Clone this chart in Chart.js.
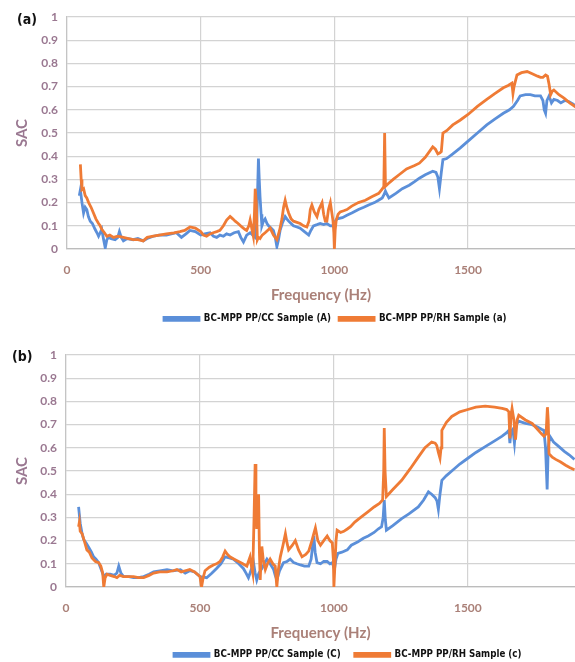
<!DOCTYPE html>
<html>
<head>
<meta charset="utf-8">
<title>SAC vs Frequency</title>
<script src="https://cdn.jsdelivr.net/npm/chart.js@4.4.0/dist/chart.umd.min.js"></script>
<style>
  html, body { margin: 0; padding: 0; background: #fff; }
  body { width: 575px; height: 662px; position: relative; overflow: hidden; }
  canvas { position: absolute; left: 0; }
  .tag { position: absolute; font: bold 14px "DejaVu Sans Condensed", "Liberation Sans", sans-serif; color: #111; }
</style>
</head>
<body>
<canvas id="chartA" width="575" height="330" style="top:0"></canvas>
<canvas id="chartB" width="575" height="332" style="top:330px"></canvas>
<div class="tag" style="left:17px;top:11px">(a)</div>
<div class="tag" style="left:12px;top:348px">(b)</div>
<script>
// frequency axis ticks (Hz)
const xTicks = [0, 500, 1000, 1500];

const namesA = ['BC-MPP PP/CC Sample (A)', 'BC-MPP PP/RH Sample (a)'];
const namesB = ['BC-MPP PP/CC Sample (C)', 'BC-MPP PP/RH Sample (c)'];

// [frequency Hz, SAC]
const ccA = [
  [46,0.23],[50,0.255],[56,0.2],[62,0.155],[68,0.18],[74,0.17],[80,0.14],[87,0.12],[95,0.11],[105,0.085],
  [112,0.07],[118,0.055],[124,0.07],[130,0.085],[137,0.04],[143,0.005],[149,0.04],[155,0.05],[165,0.045],[180,0.04],
  [190,0.05],[196,0.075],[203,0.05],[211,0.035],[225,0.045],[248,0.04],[265,0.045],[285,0.035],[300,0.045],[323,0.055],
  [345,0.06],[372,0.06],[390,0.065],[409,0.07],[428,0.05],[445,0.065],[460,0.08],[480,0.075],[500,0.06],[515,0.065],
  [535,0.07],[548,0.055],[560,0.05],[572,0.06],[585,0.055],[597,0.065],[610,0.06],[625,0.07],[641,0.075],[650,0.05],
  [660,0.03],[672,0.06],[685,0.07],[695,0.06],[704,0.05],[710,0.12],[716,0.39],[719,0.3],[722,0.225],[726,0.15],
  [729,0.1],[735,0.12],[741,0.13],[748,0.11],[754,0.1],[763,0.09],[772,0.08],[779,0.05],[785,0.01],[791,0.04],
  [797,0.08],[805,0.11],[816,0.14],[822,0.13],[829,0.12],[838,0.11],[847,0.1],[860,0.095],[872,0.09],[888,0.075],
  [904,0.06],[912,0.08],[922,0.1],[935,0.105],[947,0.11],[960,0.105],[972,0.11],[985,0.1],[991,0.1],[997,0.105],
  [1003,0.12],[1010,0.13],[1030,0.135],[1047,0.145],[1065,0.155],[1090,0.17],[1110,0.18],[1128,0.19],[1150,0.2],[1165,0.21],
  [1179,0.22],[1186,0.235],[1191,0.25],[1197,0.235],[1204,0.22],[1230,0.24],[1254,0.26],[1280,0.275],[1300,0.29],[1318,0.305],
  [1340,0.32],[1368,0.335],[1380,0.33],[1387,0.31],[1393,0.26],[1400,0.33],[1406,0.385],[1420,0.39],[1443,0.41],[1470,0.435],
  [1500,0.465],[1535,0.5],[1570,0.535],[1600,0.56],[1632,0.585],[1655,0.6],[1670,0.615],[1685,0.64],[1695,0.66],[1715,0.665],
  [1733,0.665],[1750,0.66],[1771,0.66],[1780,0.64],[1785,0.6],[1790,0.585],[1795,0.64],[1803,0.66],[1812,0.63],[1821,0.645],
  [1835,0.64],[1847,0.63],[1862,0.64],[1878,0.635],[1892,0.625],[1905,0.615]
];

const rhA = [
  [50,0.365],[53,0.3],[56,0.255],[62,0.26],[68,0.23],[74,0.22],[81,0.2],[90,0.18],[99,0.155],[108,0.13],
  [118,0.11],[124,0.1],[130,0.085],[140,0.07],[149,0.055],[160,0.06],[174,0.05],[190,0.055],[211,0.05],[230,0.045],
  [248,0.04],[265,0.04],[285,0.035],[300,0.05],[323,0.055],[345,0.06],[372,0.065],[400,0.07],[422,0.075],[440,0.08],
  [460,0.095],[480,0.09],[500,0.075],[510,0.06],[522,0.055],[535,0.065],[547,0.07],[560,0.075],[572,0.08],[585,0.1],
  [597,0.125],[610,0.14],[620,0.13],[629,0.12],[640,0.11],[654,0.095],[665,0.085],[672,0.08],[680,0.1],[685,0.125],
  [691,0.09],[697,0.055],[701,0.15],[704,0.26],[708,0.2],[712,0.04],[716,0.05],[722,0.045],[730,0.06],[741,0.07],
  [750,0.08],[760,0.09],[772,0.06],[785,0.04],[795,0.08],[804,0.13],[810,0.18],[816,0.21],[822,0.18],[829,0.155],
  [838,0.13],[847,0.12],[860,0.115],[872,0.11],[885,0.1],[897,0.095],[905,0.12],[910,0.17],[916,0.19],[925,0.16],
  [935,0.14],[942,0.17],[954,0.2],[960,0.15],[966,0.12],[972,0.12],[978,0.17],[985,0.2],[990,0.16],[995,0.12],
  [998,0.07],[1000,0],[1003,0.08],[1007,0.125],[1014,0.15],[1022,0.16],[1035,0.165],[1047,0.17],[1065,0.185],[1090,0.2],
  [1116,0.21],[1140,0.225],[1166,0.24],[1180,0.26],[1185,0.27],[1188,0.5],[1191,0.27],[1200,0.28],[1220,0.3],[1242,0.32],
  [1270,0.345],[1300,0.36],[1318,0.37],[1340,0.395],[1368,0.44],[1378,0.43],[1387,0.41],[1395,0.415],[1400,0.42],[1406,0.5],
  [1420,0.51],[1443,0.535],[1470,0.555],[1500,0.58],[1535,0.615],[1570,0.645],[1600,0.67],[1632,0.695],[1650,0.705],[1664,0.715],
  [1668,0.67],[1672,0.7],[1683,0.75],[1700,0.76],[1721,0.765],[1740,0.755],[1760,0.745],[1771,0.74],[1780,0.74],[1790,0.75],
  [1797,0.745],[1803,0.71],[1809,0.665],[1815,0.68],[1821,0.685],[1840,0.665],[1859,0.65],[1880,0.63],[1905,0.61]
];

const ccC = [
  [47,0.345],[50,0.31],[53,0.275],[60,0.23],[66,0.205],[75,0.19],[85,0.17],[95,0.15],[103,0.13],[112,0.12],
  [122,0.105],[130,0.08],[141,0.045],[150,0.055],[165,0.055],[180,0.05],[190,0.06],[197,0.09],[205,0.06],[215,0.045],
  [235,0.045],[252,0.04],[270,0.04],[290,0.045],[310,0.055],[327,0.065],[350,0.07],[377,0.075],[400,0.07],[427,0.075],
  [445,0.06],[462,0.07],[480,0.065],[500,0.045],[525,0.04],[545,0.06],[562,0.08],[578,0.1],[594,0.13],[610,0.125],
  [625,0.12],[645,0.1],[662,0.08],[672,0.06],[681,0.04],[690,0.07],[700,0.105],[706,0.06],[712,0.03],[720,0.06],
  [731,0.08],[740,0.1],[750,0.12],[762,0.1],[775,0.075],[781,0.05],[787,0.03],[797,0.07],[812,0.105],[825,0.11],
  [837,0.12],[850,0.105],[862,0.1],[875,0.095],[890,0.09],[906,0.09],[915,0.12],[925,0.22],[930,0.15],[937,0.105],
  [950,0.1],[962,0.11],[975,0.11],[985,0.1],[994,0.105],[998,0.09],[1002,0.075],[1008,0.12],[1015,0.145],[1030,0.15],
  [1050,0.16],[1065,0.18],[1090,0.195],[1110,0.21],[1128,0.22],[1150,0.235],[1165,0.25],[1178,0.26],[1184,0.3],[1188,0.375],
  [1192,0.29],[1196,0.245],[1220,0.265],[1253,0.295],[1280,0.315],[1315,0.345],[1335,0.375],[1353,0.41],[1365,0.4],[1378,0.385],
  [1385,0.37],[1390,0.335],[1396,0.4],[1403,0.46],[1420,0.48],[1440,0.5],[1470,0.53],[1500,0.555],[1530,0.58],[1565,0.605],
  [1600,0.63],[1628,0.65],[1645,0.665],[1653,0.675],[1657,0.62],[1661,0.67],[1668,0.68],[1674,0.62],[1680,0.7],[1690,0.715],
  [1715,0.705],[1740,0.7],[1760,0.69],[1775,0.68],[1784,0.675],[1790,0.6],[1796,0.42],[1800,0.6],[1806,0.65],[1820,0.625],
  [1840,0.605],[1860,0.585],[1878,0.57],[1898,0.55]
];

const rhC = [
  [47,0.26],[50,0.28],[53,0.24],[60,0.23],[68,0.2],[78,0.16],[87,0.15],[97,0.125],[110,0.11],[122,0.105],
  [130,0.09],[137,0.06],[141,0],[146,0.04],[153,0.055],[165,0.05],[180,0.045],[190,0.04],[200,0.05],[215,0.045],
  [235,0.045],[252,0.045],[270,0.04],[290,0.04],[310,0.05],[327,0.06],[350,0.065],[377,0.065],[400,0.07],[414,0.075],
  [430,0.065],[445,0.07],[462,0.075],[480,0.065],[500,0.045],[506,0],[512,0.04],[519,0.07],[535,0.085],[550,0.095],
  [562,0.1],[575,0.11],[585,0.13],[594,0.155],[603,0.14],[612,0.13],[628,0.12],[644,0.11],[660,0.1],[675,0.09],
  [681,0.11],[687,0.13],[692,0.09],[697,0.06],[702,0.3],[706,0.53],[709,0.4],[712,0.25],[716,0.35],[719,0.4],
  [722,0.15],[725,0.03],[728,0.12],[731,0.175],[736,0.12],[744,0.075],[752,0.1],[762,0.12],[772,0.1],[781,0.09],
  [787,0],[792,0.07],[800,0.13],[810,0.18],[819,0.23],[825,0.19],[831,0.16],[845,0.18],[856,0.2],[868,0.16],
  [881,0.13],[895,0.14],[906,0.155],[918,0.2],[925,0.23],[931,0.255],[940,0.2],[950,0.18],[962,0.2],[975,0.22],
  [985,0.2],[994,0.19],[998,0.12],[1000,0],[1004,0.1],[1008,0.2],[1012,0.245],[1025,0.235],[1037,0.24],[1050,0.25],
  [1062,0.26],[1078,0.28],[1100,0.3],[1128,0.325],[1150,0.345],[1170,0.36],[1182,0.375],[1186,0.5],[1188,0.685],[1191,0.5],
  [1196,0.39],[1220,0.42],[1253,0.46],[1285,0.51],[1315,0.56],[1340,0.6],[1365,0.625],[1378,0.62],[1384,0.61],[1390,0.58],
  [1396,0.555],[1400,0.6],[1403,0.675],[1420,0.71],[1440,0.735],[1470,0.755],[1500,0.765],[1530,0.775],[1565,0.78],[1600,0.775],
  [1628,0.77],[1645,0.765],[1653,0.755],[1657,0.64],[1661,0.74],[1665,0.77],[1672,0.72],[1678,0.635],[1684,0.72],[1690,0.74],
  [1715,0.72],[1740,0.705],[1760,0.68],[1775,0.66],[1784,0.65],[1792,0.66],[1797,0.775],[1800,0.72],[1803,0.575],[1815,0.56],
  [1828,0.55],[1845,0.54],[1865,0.525],[1880,0.515],[1898,0.505]
];

const BLUE = '#5b8fd9';
const ORANGE = '#ef7b35';
const Y_TEXT = '#9a7891';
const X_TEXT = '#aa8078';
const GRID = '#d3d3d3';

// fixes the legend height and where its first item starts
const legendBox = {
  id: 'legendBox',
  beforeInit(chart) {
    const opts = chart.options.plugins.legendBox;
    const fit = chart.legend.fit;
    chart.legend.fit = function () {
      fit.call(this);
      this.height = opts.height;
    };
  },
  afterLayout(chart) {
    const opts = chart.options.plugins.legendBox;
    const lg = chart.legend;
    const w = lg.right - lg.left;
    lg.left = opts.x - lg.options.labels.padding;
    lg.right = lg.left + w;
  }
};

const toPoints = arr => arr.map(([x, y]) => ({ x, y }));

function drawPanel(id, cc, rh, names, box) {
  const tickFont = { family: 'Lato', weight: 'bold', size: 12 };
  const titleFont = { family: 'Lato', weight: 'bold', size: 15 };
  return new Chart(document.getElementById(id), {
    type: 'line',
    data: {
      datasets: [
        { label: names[0], data: toPoints(cc), borderColor: BLUE, backgroundColor: BLUE,
          borderWidth: 2.8, pointRadius: 0, fill: false, order: 1 },
        { label: names[1], data: toPoints(rh), borderColor: ORANGE, backgroundColor: ORANGE,
          borderWidth: 2.8, pointRadius: 0, fill: false, order: 0 }
      ]
    },
    options: {
      responsive: false,
      animation: false,
      layout: { padding: { top: box.top, left: 0, right: 0, bottom: 0 } },
      scales: {
        x: {
          type: 'linear', min: 0, max: 1900,
          afterBuildTicks: s => { s.ticks = xTicks.map(v => ({ value: v })); },
          afterFit: s => { s.height = box.xHeight; },
          grid: { color: GRID, lineWidth: 1.2, drawTicks: false },
          border: { color: '#bcbcbc', width: 1.3 },
          ticks: { padding: 14, color: X_TEXT, font: tickFont, maxRotation: 0,
                   callback: v => String(v) },
          title: { display: true, text: 'Frequency (Hz)', color: X_TEXT, font: titleFont,
                   padding: { top: 0, bottom: box.titlePad } }
        },
        y: {
          min: 0, max: 1,
          afterFit: s => { s.width = box.left; },
          grid: { color: GRID, lineWidth: 1.2, drawTicks: false },
          border: { color: '#c4c4c4', width: 1.2 },
          ticks: { stepSize: 0.1, padding: 9, color: Y_TEXT, font: tickFont,
                   callback: v => String(Math.round(v * 10) / 10) },
          title: { display: true, text: 'SAC', color: Y_TEXT, font: titleFont,
                   padding: { top: 13, bottom: 0 } }
        }
      },
      plugins: {
        legend: {
          position: 'bottom', align: 'start',
          labels: {
            boxWidth: 35, boxHeight: 3, padding: box.legendPad, color: '#111',
            font: { family: "'DejaVu Sans Condensed', 'Liberation Sans', sans-serif", weight: 'bold', size: 9.7 },
            sort: (a, b) => a.datasetIndex - b.datasetIndex
          }
        },
        tooltip: { enabled: false },
        legendBox: { height: box.legendH, x: box.legendX }
      }
    },
    plugins: [legendBox]
  });
}

drawPanel('chartA', ccA, rhA, namesA,
  { top: 17, left: 67, xHeight: 57, titlePad: 2, legendH: 24, legendPad: 8, legendX: 164 });
drawPanel('chartB', ccC, rhC, namesB,
  { top: 25, left: 66, xHeight: 49, titlePad: -6, legendH: 26, legendPad: 14, legendX: 174 });
</script>
</body>
</html>
